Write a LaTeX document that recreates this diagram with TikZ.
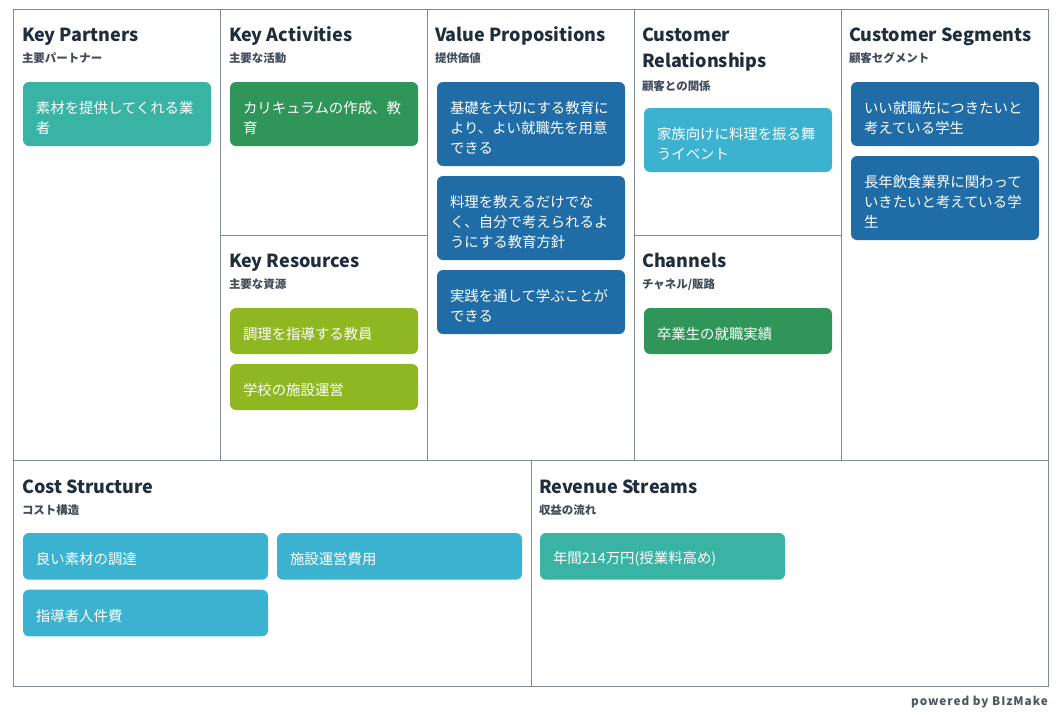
\documentclass[tikz,border=0pt]{standalone}
\usepackage{fontspec}
\setmainfont{Noto Sans CJK JP}
\usetikzlibrary{positioning}
\definecolor{mteal}{HTML}{38B3A4}
\definecolor{mgreen}{HTML}{2F9559}
\definecolor{mblue}{HTML}{1F6CA6}
\definecolor{msky}{HTML}{3BB2D0}
\definecolor{mlime}{HTML}{8FB721}
\definecolor{mink}{HTML}{1F2D3D}
\definecolor{mline}{HTML}{7F8A96}
\newcommand{\cardlift}{14.5pt}
\tikzset{cellline/.style = {draw=mline, line width=0.7pt}}
\tikzset{celltitle/.style = {anchor=north west, inner sep=0pt, outer sep=0pt, align=left, text=mink,
                             text height=11pt, text depth=3.5pt,
                             font=\fontsize{13.5}{19.5}\selectfont\bfseries}}
\tikzset{cellsub/.style = {anchor=north west, inner sep=0pt, outer sep=0pt, text=mink!85,
                           text height=7.5pt, text depth=1.5pt,
                           font=\fontsize{8.6}{10}\selectfont\bfseries}}
\tikzset{card/.style = {anchor=north west, rounded corners=4.5pt, fill=#1, text=white,
                        inner xsep=9.75pt, inner ysep=0pt, outer sep=0pt, align=left,
                        execute at begin node={\leavevmode\rule{0pt}{\cardlift}},
                        font=\fontsize{10.8}{15}\selectfont}}
\tikzset{cardnarrow/.style = {card=#1, text width=121.5pt}}
\tikzset{cardwide/.style = {card=#1, text width=164.25pt}}
\tikzset{cardone/.code = {\renewcommand{\cardlift}{13pt}}}
\begin{document}
\begin{tikzpicture}[x=0.75pt, y=-0.75pt]
      \useasboundingbox (0, 0) rectangle (1059, 714);

      \draw [cellline] (13.5, 9) rectangle (1048, 686);
      \draw [cellline] (13.5, 460.5) -- (1048, 460.5);
      \foreach \x in {220.5, 427, 634.5, 841} {
        \draw [cellline] (\x, 9) -- (\x, 460.5);
      }
      \draw [cellline] (531, 460.5) -- (531, 686);
      \draw [cellline] (220.5, 235) -- (427, 235);
      \draw [cellline] (634.5, 235) -- (841, 235);

      % top row
      \node [celltitle] (kp) at (22, 27) {Key Partners};
      \node [cellsub, below=4.5pt of kp.south west, anchor=north west] (kpsub) {主要パートナー};
      \node [cardnarrow=mteal, minimum height=48pt] (kp1) at (23, 82) {素材を提供してくれる業\\者};

      \node [celltitle] (ka) at (229, 27) {Key Activities};
      \node [cellsub, below=4.5pt of ka.south west, anchor=north west] (kasub) {主要な活動};
      \node [cardnarrow=mgreen, minimum height=48pt] (ka1) at (230, 82) {カリキュラムの作成、教\\育};

      \node [celltitle] (kr) at (229, 253) {Key Resources};
      \node [cellsub, below=4.5pt of kr.south west, anchor=north west] (krsub) {主要な資源};
      \node [cardnarrow=mlime, cardone, minimum height=34.5pt] (kr1) at (230, 308) {調理を指導する教員};
      \node [cardnarrow=mlime, cardone, minimum height=34.5pt, below=7.5pt of kr1.south west, anchor=north west] (kr2) {学校の施設運営};

      \node [celltitle] (vp) at (435, 27) {Value Propositions};
      \node [cellsub, below=4.5pt of vp.south west, anchor=north west] (vpsub) {提供価値};
      \node [cardnarrow=mblue, minimum height=63pt] (vp1) at (437, 82) {基礎を大切にする教育に\\より、よい就職先を用意\\できる};
      \node [cardnarrow=mblue, minimum height=63pt, below=7.5pt of vp1.south west, anchor=north west] (vp2) {料理を教えるだけでな\\く、自分で考えられるよ\\うにする教育方針};
      \node [cardnarrow=mblue, minimum height=48pt, below=7.5pt of vp2.south west, anchor=north west] (vp3) {実践を通して学ぶことが\\できる};

      \node [celltitle, text height=30.5pt] (cr) at (642, 27) {Customer\\Relationships};
      \node [cellsub, below=6pt of cr.south west, anchor=north west] (crsub) {顧客との関係};
      \node [cardnarrow=msky, minimum height=48pt] (cr1) at (644, 108) {家族向けに料理を振る舞\\うイベント};

      \node [celltitle] (ch) at (642, 253) {Channels};
      \node [cellsub, below=4.5pt of ch.south west, anchor=north west] (chsub) {チャネル/販路};
      \node [cardnarrow=mgreen, cardone, minimum height=34.5pt] (ch1) at (644, 308) {卒業生の就職実績};

      \node [celltitle] (cs) at (849, 27) {Customer Segments};
      \node [cellsub, below=4.5pt of cs.south west, anchor=north west] (cssub) {顧客セグメント};
      \node [cardnarrow=mblue, minimum height=48pt] (cs1) at (851, 82) {いい就職先につきたいと\\考えている学生};
      \node [cardnarrow=mblue, minimum height=63pt, below=7.5pt of cs1.south west, anchor=north west] (cs2) {長年飲食業界に関わって\\いきたいと考えている学\\生};

      % bottom row
      \node [celltitle] (co) at (22, 479) {Cost Structure};
      \node [cellsub, below=4.5pt of co.south west, anchor=north west] (cosub) {コスト構造};
      \node [cardwide=msky, cardone, minimum height=35pt] (co1) at (23, 533) {良い素材の調達};
      \node [cardwide=msky, cardone, minimum height=35pt] (co2) at (277, 533) {施設運営費用};
      \node [cardwide=msky, cardone, minimum height=35pt, below=7.5pt of co1.south west, anchor=north west] (co3) {指導者人件費};

      \node [celltitle] (rs) at (539, 479) {Revenue Streams};
      \node [cellsub, below=4.5pt of rs.south west, anchor=north west] (rssub) {収益の流れ};
      \node [cardwide=mteal, cardone, minimum height=35pt] (rs1) at (540, 533) {年間214万円(授業料高め)};

      \node [anchor=east, inner sep=0pt, text=mink!80, font=\fontsize{8.8}{10}\selectfont\bfseries\addfontfeatures{LetterSpace=8}] (pw) at (1048, 702) {powered by BIzMake};
    \end{tikzpicture}
\end{document}
